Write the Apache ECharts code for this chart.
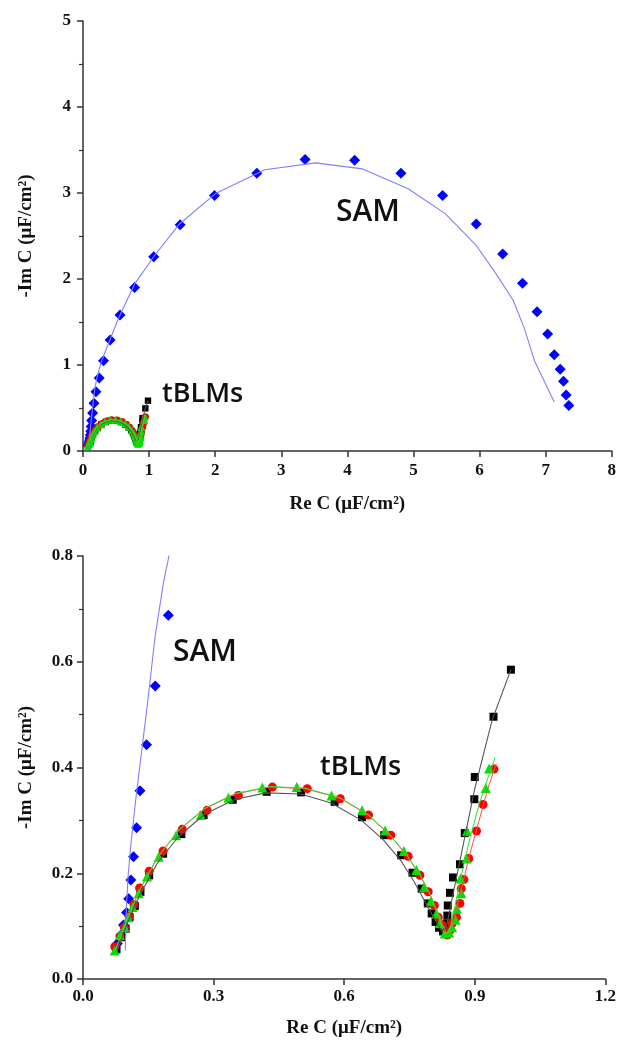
<!DOCTYPE html>
<html>
<head>
<meta charset="utf-8">
<script src="https://cdn.jsdelivr.net/npm/echarts@6/dist/echarts.min.js"></script>
<style>
html,body{margin:0;padding:0;background:#fff;}
#chart{width:619px;height:1047px;}
</style>
</head>
<body>
<div id="chart"></div>
<script>
// ---------- DATA ----------
const xTicksTop = [0, 8, 1];      // min, max, interval
const yTicksTop = [0, 5, 1];
const xTicksBottom = [0, 1.2, 0.3];
const yTicksBottom = [0, 0.8, 0.2];

// SAM measured points (blue diamonds)
const samPoints = [
  [0.079,0.067],[0.087,0.083],[0.093,0.102],[0.100,0.126],[0.105,0.152],[0.110,0.187],
  [0.116,0.231],[0.123,0.286],[0.131,0.356],[0.146,0.443],[0.166,0.554],[0.196,0.688],
  [0.245,0.85],[0.31,1.05],[0.41,1.29],[0.56,1.58],[0.78,1.90],[1.07,2.26],[1.47,2.63],
  [1.99,2.97],[2.63,3.23],[3.36,3.39],[4.11,3.38],[4.81,3.23],[5.44,2.97],[5.95,2.64],
  [6.35,2.29],[6.65,1.95],[6.87,1.62],[7.03,1.36],[7.13,1.12],[7.22,0.95],[7.27,0.81],
  [7.31,0.65],[7.35,0.53]
];
// SAM fit (blue line)
const samFit = [
  [0.097,0.054],[0.100,0.143],[0.104,0.199],[0.111,0.262],[0.121,0.338],[0.134,0.426],
  [0.149,0.527],[0.166,0.650],[0.185,0.75],[0.205,0.83],[0.27,1.02],[0.36,1.2],[0.54,1.55],
  [0.78,1.94],[1.08,2.27],[1.46,2.64],[2.0,2.99],[2.75,3.27],[3.52,3.35],[4.23,3.28],
  [4.92,3.05],[5.48,2.76],[5.95,2.39],[6.25,2.06],[6.51,1.75],[6.68,1.42],[6.83,1.05],[7.13,0.57]
];
// tBLM series 1 (black squares)
const blackPoints = [
  [0.077,0.056],[0.088,0.079],[0.098,0.095],[0.107,0.117],[0.119,0.138],[0.132,0.165],
  [0.152,0.196],[0.184,0.237],[0.226,0.274],[0.277,0.310],[0.344,0.339],[0.422,0.354],
  [0.501,0.353],[0.578,0.335],[0.641,0.306],[0.692,0.272],[0.731,0.234],[0.757,0.201],
  [0.778,0.171],[0.792,0.143],[0.801,0.124],[0.810,0.108],[0.818,0.097],[0.827,0.090],
  [0.835,0.105],[0.837,0.120],[0.838,0.139],[0.843,0.163],[0.850,0.192],[0.866,0.217],
  [0.877,0.276],[0.899,0.340],[0.900,0.382],[0.943,0.496],[0.983,0.585]
];
const blackFit = [
  [0.078,0.052],[0.10,0.102],[0.13,0.158],[0.17,0.218],[0.22,0.270],[0.28,0.312],
  [0.35,0.340],[0.42,0.352],[0.50,0.350],[0.57,0.333],[0.64,0.300],[0.69,0.263],
  [0.73,0.224],[0.76,0.185],[0.79,0.140],[0.81,0.110],[0.826,0.088],[0.834,0.095],
  [0.845,0.14],[0.86,0.20],[0.88,0.28],[0.90,0.36],[0.94,0.49],[0.983,0.585]
];
// tBLM series 2 (red circles)
const redPoints = [
  [0.073,0.061],[0.085,0.080],[0.095,0.098],[0.106,0.118],[0.117,0.141],[0.130,0.172],
  [0.152,0.204],[0.184,0.242],[0.228,0.283],[0.285,0.319],[0.357,0.347],[0.435,0.363],
  [0.515,0.360],[0.591,0.341],[0.656,0.310],[0.707,0.272],[0.747,0.232],[0.774,0.196],
  [0.793,0.165],[0.807,0.139],[0.816,0.117],[0.826,0.102],[0.837,0.083],[0.843,0.092],
  [0.848,0.105],[0.858,0.117],[0.866,0.143],[0.869,0.171],[0.875,0.188],[0.886,0.228],
  [0.904,0.280],[0.919,0.330],[0.944,0.397]
];
const redFit = [
  [0.075,0.056],[0.10,0.110],[0.13,0.168],[0.17,0.228],[0.22,0.281],[0.28,0.322],
  [0.35,0.350],[0.43,0.363],[0.51,0.360],[0.59,0.342],[0.655,0.310],[0.705,0.272],
  [0.745,0.232],[0.775,0.195],[0.80,0.155],[0.82,0.115],[0.835,0.085],[0.845,0.090],
  [0.86,0.14],[0.875,0.19],[0.89,0.24],[0.91,0.30],[0.93,0.36],[0.949,0.407]
];
// tBLM series 3 (green triangles)
const greenPoints = [
  [0.073,0.054],[0.085,0.083],[0.096,0.098],[0.104,0.117],[0.114,0.136],[0.128,0.162],
  [0.147,0.194],[0.174,0.231],[0.214,0.272],[0.271,0.310],[0.334,0.343],[0.412,0.362],
  [0.491,0.363],[0.571,0.347],[0.641,0.319],[0.694,0.281],[0.737,0.242],[0.766,0.206],
  [0.784,0.174],[0.799,0.147],[0.812,0.124],[0.820,0.106],[0.831,0.086],[0.841,0.088],
  [0.848,0.098],[0.856,0.112],[0.859,0.133],[0.869,0.162],[0.867,0.190],[0.881,0.228],
  [0.882,0.280],[0.925,0.361],[0.933,0.398]
];
const greenFit = [
  [0.074,0.054],[0.10,0.110],[0.13,0.168],[0.17,0.229],[0.22,0.282],[0.28,0.323],
  [0.35,0.351],[0.43,0.364],[0.51,0.361],[0.59,0.343],[0.655,0.311],[0.705,0.273],
  [0.745,0.233],[0.775,0.196],[0.80,0.155],[0.818,0.115],[0.83,0.085],[0.842,0.090],
  [0.855,0.14],[0.87,0.20],[0.89,0.27],[0.91,0.33],[0.93,0.38],[0.947,0.419]
];

const xName = 'Re C (\u03bcF/cm\u00b2)';
const yName = '-Im C (\u03bcF/cm\u00b2)';
const annotations = ['SAM', 'tBLMs'];

// ---------- CHART ----------
const chart = echarts.init(document.getElementById('chart'), null, {renderer: 'canvas'});
const axisCol = '#333';
const serif = 'Liberation Serif, Times New Roman, serif';
const sans = 'Open Sans, sans-serif';

function axis(opts, dec, minor) {
  return {
    type: 'value',
    min: opts[0], max: opts[1], interval: opts[2],
    axisLine: {show: true, onZero: false, lineStyle: {color: axisCol, width: 1.5}},
    axisTick: {show: true, inside: false, length: 6, lineStyle: {color: axisCol, width: 1.5}},
    minorTick: {show: minor, splitNumber: 2, length: 4, lineStyle: {color: axisCol, width: 1.2}},
    splitLine: {show: false},
    minorSplitLine: {show: false},
    axisLabel: {
      fontFamily: serif, fontWeight: 'bold', fontSize: 17, color: '#111',
      formatter: v => v.toFixed(dec)
    },
    nameLocation: 'middle',
    nameTextStyle: {fontFamily: serif, fontWeight: 'bold', fontSize: 19, color: '#111'}
  };
}

const xTop = axis(xTicksTop, 0, false);
Object.assign(xTop, {gridIndex: 0, name: xName, nameGap: 44});
xTop.axisLabel.margin = 11;
const yTop = axis(yTicksTop, 0, true);
Object.assign(yTop, {gridIndex: 0, name: yName, nameGap: 47});
yTop.axisLabel.margin = 12;
const xBot = axis(xTicksBottom, 1, false);
Object.assign(xBot, {gridIndex: 1, name: xName, nameGap: 40});
xBot.axisLabel.margin = 9;
const yBot = axis(yTicksBottom, 1, true);
Object.assign(yBot, {gridIndex: 1, name: yName, nameGap: 47});
yBot.axisLabel.margin = 10;

function scatter(data, idx, symbol, size, color) {
  return {type: 'scatter', xAxisIndex: idx, yAxisIndex: idx, data: data,
    symbol: symbol, symbolSize: size, itemStyle: {color: color, opacity: 1},
    clip: true, silent: true, animation: false};
}
function fit(data, idx, color, w) {
  return {type: 'line', xAxisIndex: idx, yAxisIndex: idx, data: data,
    showSymbol: false, symbol: 'none', lineStyle: {color: color, width: w},
    clip: true, silent: true, animation: false, z: 3};
}

const series = [];
[0, 1].forEach(i => {
  const s = i === 0 ? 0.8 : 1;
  series.push(fit(samFit, i, '#7f7fff', 1.1));
  series.push(fit(blackFit, i, '#555', 1.1));
  series.push(fit(redFit, i, '#ff5050', 1));
  series.push(fit(greenFit, i, '#30e030', 1));
  series.push(scatter(samPoints, i, 'diamond', 11, '#0000ff'));
  series.push(scatter(blackPoints, i, 'rect', 8 * s, '#000'));
  series.push(scatter(redPoints, i, 'circle', 9 * s, '#ff0000'));
  series.push(scatter(greenPoints, i, 'triangle', 10 * s, '#00e000'));
});

function label(text, x, y, size) {
  return {type: 'text', x: x, y: y, z: 100,
    style: {text: text, font: '600 ' + size + 'px ' + sans, fill: '#111',
      align: 'left', verticalAlign: 'middle'}};
}

chart.setOption({
  backgroundColor: '#fff',
  animation: false,
  grid: [
    {left: 83, top: 21, width: 531, height: 430},
    {left: 83, top: 556, width: 525, height: 423}
  ],
  xAxis: [xTop, xBot],
  yAxis: [yTop, yBot],
  series: series,
  graphic: [
    label(annotations[0], 336, 212, 30),
    label(annotations[1], 162, 394, 27),
    label(annotations[0], 173, 652, 30),
    label(annotations[1], 320, 767, 27)
  ]
});
</script>
</body>
</html>
